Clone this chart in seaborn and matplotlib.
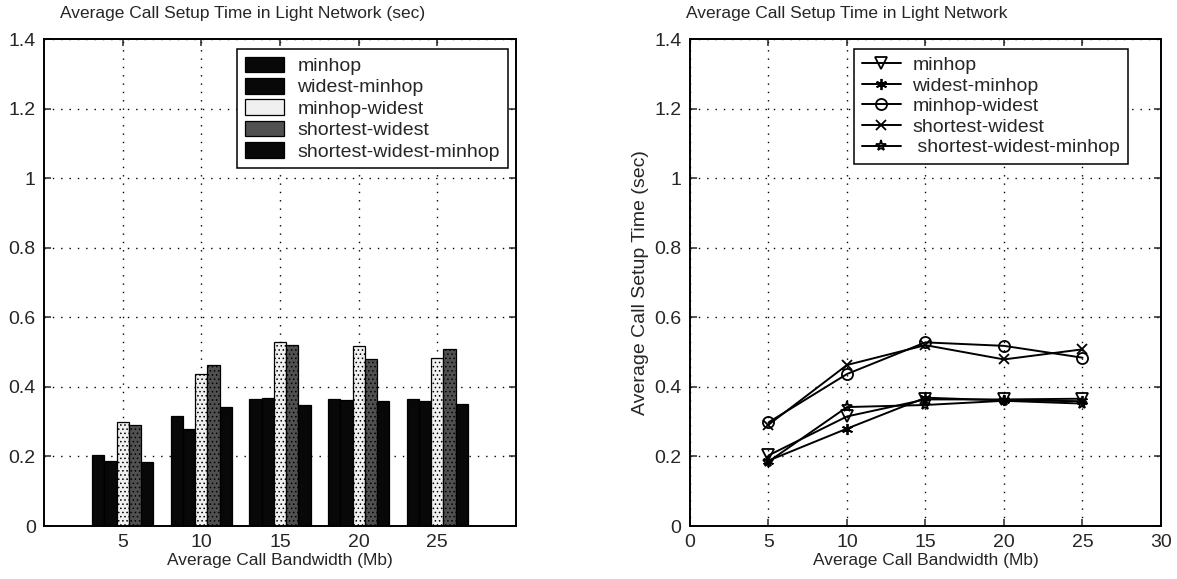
import matplotlib
matplotlib.use('Agg')
import matplotlib.pyplot as plt
import seaborn as sns
import pandas as pd

# Average call setup time (sec) per algorithm
bandwidth = [5, 10, 15, 20, 25]
algorithms = ['minhop', 'widest-minhop', 'minhop-widest', 'shortest-widest', 'shortest-widest-minhop']
minhop = [0.203, 0.315, 0.364, 0.364, 0.366]
widest_minhop = [0.188, 0.280, 0.369, 0.361, 0.359]
minhop_widest = [0.298, 0.437, 0.528, 0.518, 0.484]
shortest_widest = [0.291, 0.463, 0.520, 0.479, 0.508]
shortest_widest_minhop = [0.185, 0.342, 0.348, 0.360, 0.352]

series = [minhop, widest_minhop, minhop_widest, shortest_widest, shortest_widest_minhop]
df = pd.DataFrame({
    'bw': [b for _ in algorithms for b in bandwidth],
    'time': [v for s in series for v in s],
    'alg': [a for a in algorithms for _ in bandwidth],
})

sns.set_theme(style='white')
plt.rcParams['font.family'] = ['Liberation Sans', 'DejaVu Sans']
plt.rcParams['hatch.linewidth'] = 0.6

fig = plt.figure(figsize=(11.77, 5.79), dpi=100)
ax1 = fig.add_axes([0.0374, 0.0915, 0.401, 0.841])
ax2 = fig.add_axes([0.5862, 0.0915, 0.4002, 0.841])

bar_colors = ['#080808', '#080808', '#f0f0f0', '#505050', '#080808']
sns.barplot(data=df, x='bw', y='time', hue='alg', hue_order=algorithms, palette=bar_colors,
            native_scale=True, gap=0, width=0.78, saturation=1, edgecolor='black', linewidth=0.9,
            ax=ax1)

# speckled texture on the two grey series
for cont, alg in zip(ax1.containers, algorithms):
    if alg in ('minhop-widest', 'shortest-widest'):
        for p in cont.patches:
            p.set_hatch('....')

markers = ['v', (6, 2, 0), 'o', 'x', '*']
sizes = [8, 8, 8, 7, 8]
for alg, m, ms in zip(algorithms, markers, sizes):
    sub = df[df['alg'] == alg]
    filled = m == (6, 2, 0) or m == 'x'
    sns.lineplot(data=sub, x='bw', y='time', ax=ax2, color='black', linewidth=1.4,
                 marker=m, markersize=ms, markerfacecolor='black' if filled else 'none',
                 markeredgecolor='black', markeredgewidth=1.3,
                 label=(' ' + alg) if alg == 'shortest-widest-minhop' else alg)

for ax in (ax1, ax2):
    ax.set_xlim(0, 30)
    ax.set_ylim(0, 1.4)
    ax.set_yticks([0, 0.2, 0.4, 0.6, 0.8, 1.0, 1.2, 1.4])
    ax.set_yticklabels(['0', '0.2', '0.4', '0.6', '0.8', '1', '1.2', '1.4'])
    ax.grid(True, linestyle=(0, (1, 5)), color='black', linewidth=1.0)
    ax.set_axisbelow(True)
    ax.tick_params(axis='both', direction='in', length=5, width=1.1, labelsize=14,
                   top=True, right=True, bottom=True, left=True, pad=6)
    for sp in ax.spines.values():
        sp.set_color('black')
        sp.set_linewidth(1.4)
    ax.set_xlabel('Average Call Bandwidth (Mb)', fontsize=12.5, labelpad=1)

ax1.set_xticks([5, 10, 15, 20, 25])
ax1.set_xticklabels(['5', '10', '15', '20', '25'])
ax1.set_ylabel('')
ax1.set_title('Average Call Setup Time in Light Network (sec)', fontsize=12.5, pad=15, x=0.42)

ax2.set_xticks([0, 5, 10, 15, 20, 25, 30])
ax2.set_xticklabels(['0', '5', '10', '15', '20', '25', '30'])
ax2.set_ylabel('Average Call Setup Time (sec)', fontsize=14, labelpad=4)
ax2.set_title('Average Call Setup Time in Light Network', fontsize=12.5, pad=15, x=0.333)

leg1 = ax1.legend(loc='upper right', bbox_to_anchor=(0.982, 0.98), fontsize=14, frameon=True,
                  fancybox=False, edgecolor='black', framealpha=1, labelspacing=0.15,
                  handlelength=2.0, handleheight=0.85, borderpad=0.4, handletextpad=0.7,
                  borderaxespad=0)
leg1.get_frame().set_linewidth(1.1)

leg2 = ax2.legend(loc='upper left', bbox_to_anchor=(0.348, 0.98), fontsize=14, frameon=True,
                  fancybox=False, edgecolor='black', framealpha=1, labelspacing=0.15,
                  handlelength=2.0, borderpad=0.4, handletextpad=0.6, borderaxespad=0)
leg2.get_frame().set_linewidth(1.1)

fig.savefig('out.png', dpi=100)
